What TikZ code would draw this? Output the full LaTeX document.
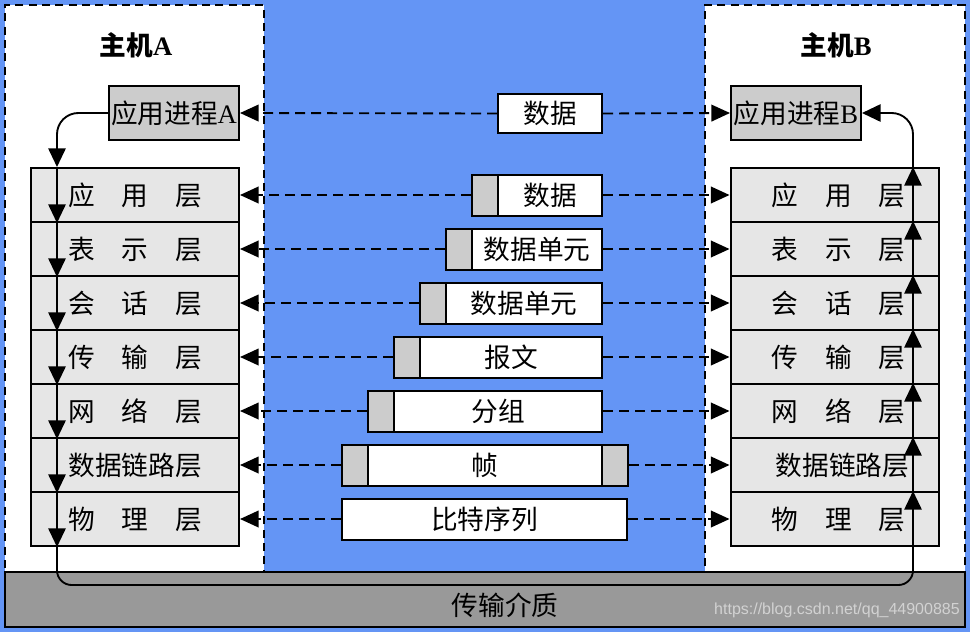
\documentclass[tikz,border=0pt]{standalone}
\usepackage{fontspec}
\setmainfont{Liberation Serif}
\newfontfamily\cjk{Noto Sans CJK SC}
\newfontfamily\wmfont{Liberation Sans}
\usetikzlibrary{arrows.meta}
\definecolor{bgblue}{RGB}{100,149,245}
\definecolor{procgray}{RGB}{204,204,204}
\definecolor{layergray}{RGB}{230,230,230}
\definecolor{medgray}{RGB}{153,153,153}
\definecolor{wmgray}{RGB}{210,210,210}
\begin{document}
\begin{tikzpicture}[x=0.75pt,y=-0.75pt,
  txt/.style={font=\cjk\fontsize{20}{24}\selectfont},
  hostbox/.style={draw=black,fill=white,line width=1.9pt,dash pattern=on 6pt off 4pt,inner sep=0pt,minimum height=425.25pt},
  procbox/.style={draw=black,fill=procgray,line width=1.5pt,inner sep=0pt,minimum width=97.5pt,minimum height=40.5pt,txt},
  layerbox/.style={draw=black,fill=layergray,line width=1.5pt,inner sep=0pt,minimum width=156pt,minimum height=40.5pt,txt},
  databox/.style={draw=black,fill=white,line width=1.5pt,inner sep=0pt,minimum height=30.75pt,txt},
  hdrbox/.style={draw=black,fill=procgray,line width=1.5pt,inner sep=0pt,minimum height=30.75pt,minimum width=19.5pt},
  dconn/.style={line width=1.4pt,dash pattern=on 7.5pt off 4.5pt,-{Triangle[length=14pt,width=12.5pt]}},
  flow/.style={line width=1.4pt,-{Triangle[length=14pt,width=13pt]}},
]
\useasboundingbox (0,0) rectangle (970,632);
\fill[bgblue] (0,0) rectangle (970,632);

% hosts
\node[hostbox,minimum width=194.25pt] (hostA) at (134.5,288.5) {};
\node[hostbox,minimum width=195pt] (hostB) at (835,288.5) {};
\node[txt] (titleA) at (136,45) {\bfseries 主机{\rmfamily A}};
\node[txt] (titleB) at (836,45) {\bfseries 主机{\rmfamily B}};

% processes
\node[procbox] (procA) at (174,113) {应用进程{\rmfamily A}};
\node[procbox] (procB) at (796,113) {应用进程{\rmfamily B}};

% layer stacks
\node[layerbox] (A1) at (135,195) {应　用　层};
\node[layerbox] (A2) at (135,249) {表　示　层};
\node[layerbox] (A3) at (135,303) {会　话　层};
\node[layerbox] (A4) at (135,357) {传　输　层};
\node[layerbox] (A5) at (135,411) {网　络　层};
\node[layerbox] (A6) at (135,465) {数据链路层};
\node[layerbox] (A7) at (135,519) {物　理　层};
\node[layerbox] (B1) at (834.5,195) {\hspace*{6pt}应　用　层};
\node[layerbox] (B2) at (834.5,249) {\hspace*{6pt}表　示　层};
\node[layerbox] (B3) at (834.5,303) {\hspace*{6pt}会　话　层};
\node[layerbox] (B4) at (834.5,357) {\hspace*{6pt}传　输　层};
\node[layerbox] (B5) at (834.5,411) {\hspace*{6pt}网　络　层};
\node[layerbox] (B6) at (834.5,465) {\hspace*{12pt}数据链路层};
\node[layerbox] (B7) at (834.5,519) {\hspace*{6pt}物　理　层};

% data units
\node[databox,minimum width=78pt,minimum height=29.25pt] (d0) at (550,113.5) {数据};
\node[hdrbox] (h1) at (485,195) {};
\node[databox,minimum width=78pt] (d1) at (550,195) {数据};
\node[hdrbox] (h2) at (459,249) {};
\node[databox,minimum width=97.5pt] (d2) at (537,249) {数据单元};
\node[hdrbox] (h3) at (433,303) {};
\node[databox,minimum width=117pt] (d3) at (524,303) {数据单元};
\node[hdrbox] (h4) at (407,357) {};
\node[databox,minimum width=136.5pt] (d4) at (511,357) {报文};
\node[hdrbox] (h5) at (381,411) {};
\node[databox,minimum width=156pt] (d5) at (498,411) {分组};
\node[hdrbox] (h6) at (355,465) {};
\node[databox,minimum width=175.5pt] (d6) at (485,465) {帧};
\node[hdrbox] (t6) at (615,465) {};
\node[databox,minimum width=213.75pt] (d7) at (484.5,519) {比特序列};

% dashed peer connectors
\draw[dconn] (d0.west) -- (procA.east);
\draw[dconn] (d0.east) -- (procB.west);
\foreach \i in {1,...,6} \draw[dconn] (h\i.west) -- (A\i.east);
\foreach \i in {1,...,5} \draw[dconn] (d\i.east) -- (B\i.west);
\draw[dconn] (t6.east) -- (B6.west);
\draw[dconn] (d7.west) -- (A7.east);
\draw[dconn] (d7.east) -- (B7.west);

% medium
\node[draw=black,fill=medgray,line width=1.5pt,inner sep=0pt,minimum width=720pt,minimum height=41.25pt] (medium) at (485,599.5) {};
\node[txt] (medlabel) at (505,605) {传输介质};
\node[font=\wmfont\fontsize{12}{14}\selectfont,text=wmgray,anchor=east,inner sep=0pt] (wm) at (960,610) {https://blog.csdn.net/qq\_44900885};

% flow path
\coordinate (lx) at (57,0);
\coordinate (rx) at (913,0);
\coordinate (ly) at (0,585);
\draw[flow,rounded corners=16pt] (procA.west) -| (lx |- A1.north);
\foreach \i in {1,...,7} \draw[flow] (lx |- A\i.north) -- (lx |- A\i.south);
\draw[flow,rounded corners=11pt] (lx |- A7.south) |- (ly -| rx) -- (rx |- B7.north);
\foreach \i in {1,...,6} \draw[flow] (rx |- B\i.south) -- (rx |- B\i.north);
\draw[flow,rounded corners=16pt] (rx |- B1.north) |- (procB.east);
\end{tikzpicture}
\end{document}
